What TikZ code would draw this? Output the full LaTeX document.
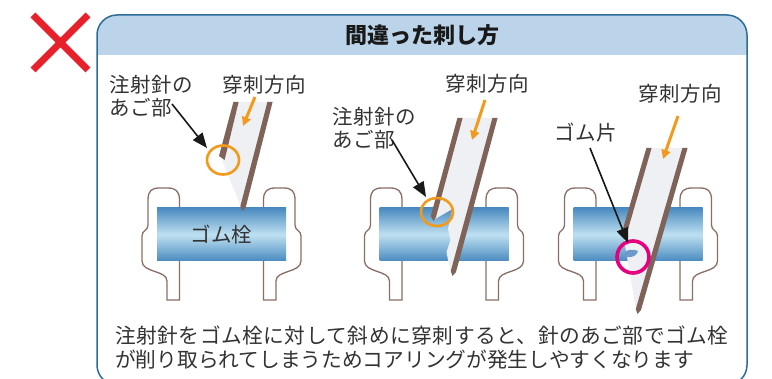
\documentclass[tikz,border=0pt]{standalone}
\usepackage{fontspec}
\setmainfont{Noto Sans CJK JP}
\usetikzlibrary{arrows.meta}

\definecolor{frameblue}{HTML}{2B6C98}
\definecolor{headblue}{HTML}{BCD4E9}
\definecolor{crossred}{HTML}{E6212B}
\definecolor{needlebrown}{HTML}{7F6359}
\definecolor{needlegray}{HTML}{EEF0F3}
\definecolor{plugdark}{HTML}{4A8BC0}
\definecolor{pluglight}{HTML}{BFE0F1}
\definecolor{arroworange}{HTML}{F39A1C}
\definecolor{ringpink}{HTML}{E5007F}
\definecolor{chipblue}{HTML}{6E9ACB}
\definecolor{inkgray}{HTML}{333333}
\definecolor{holderbrown}{HTML}{8A6E66}

\tikzset{
  txt/.style={inner sep=0pt, text=inkgray, font=\fontsize{20.5}{23}\selectfont\addfontfeature{LetterSpace=3}},
  bodytxt/.style={inner sep=0pt, text=inkgray, align=left, font=\fontsize{20.7}{23.5}\selectfont},
  titletxt/.style={inner sep=0pt, text=black!90, font=\fontsize{22}{26}\selectfont\bfseries},
  plug/.style={inner sep=0pt, minimum width=129pt, minimum height=53pt,
    top color=plugdark, bottom color=plugdark, middle color=pluglight,
    text=inkgray, font=\fontsize{20.5}{23}\selectfont},
  holderline/.style={draw=holderbrown, line width=1.3pt, fill=white},
  stripe/.style={fill=needlebrown},
  barrel/.style={fill=needlegray},
  pointer/.style={draw=black!90, line width=1.6pt, -{Triangle[length=15pt,width=12pt]}},
  flow/.style={draw=arroworange, line width=3pt, -{Triangle[length=9pt,width=9pt]}},
  ring/.style={draw=arroworange, line width=2.6pt},
  pinkring/.style={draw=ringpink, line width=3.6pt},
  holders/.pic={
    \foreach \side in {1,-1}{
      \begin{scope}[xscale=\side]
        \path[holderline] (-42,261) -- (-42,300) -- (-54.5,300) -- (-54.5,281)
          .. controls (-54.5,270) and (-79.5,273) .. (-79.5,261) -- (-79.5,236)
          .. controls (-79.5,230) and (-73.5,231) .. (-73.5,225) -- (-73.5,200)
          .. controls (-73.5,191) and (-70,188) .. (-62,188) -- (-54,188)
          .. controls (-46,188) and (-42,191) .. (-42,200) -- (-42,208);
      \end{scope}
    }
  }
}

\begin{document}
\begin{tikzpicture}[x=1pt, y=-1pt]
\useasboundingbox (0,0) rectangle (772,379);
\clip (0,0) rectangle (772,379);

% red cross
\draw[crossred, line width=7pt] (33,15) -- (88,70) (88,15) -- (33,70);

% framed panel with header band
\begin{scope}
  \clip[rounded corners=20pt] (97,15) rectangle (747,385);
  \fill[headblue] (97,15) rectangle (747,55);
\end{scope}
\draw[frameblue, line width=1.5pt, rounded corners=20pt] (97,15) rectangle (747,385);
\node[titletxt] (title) at (422,35) {間違った刺し方};

% stopper holders
\pic at (221.5,0) {holders};
\pic at (444,0) {holders};
\pic at (638,0) {holders};

% rubber plugs
\node[plug] (plug1) at (221.5,234.5) {ゴム栓};
\node[plug] (plug2) at (444,234.5) {};
\node[plug] (plug3) at (638,234.5) {};

% needle 1: above the plug
\fill[barrel] (238.6,102) -- (267.4,102) -- (241,207) -- (222,160) -- cycle;
\fill[stripe] (233.4,102) -- (238.6,102) -- (224.6,160) -- (219.0,156) -- cycle;
\fill[stripe] (267.4,102) -- (272.6,102) -- (245.8,207) -- (242,211) -- (240.4,206) -- cycle;

% needle 2: tip cutting into the plug
\fill[barrel] (462.6,118) -- (492.4,118) -- (451,272) -- (449,265) -- (446.5,252)
  -- (450.5,240) -- (448,229) -- (452.5,209) -- (435,219) -- cycle;
\fill[stripe] (457.4,118) -- (462.6,118) -- (436,217) -- (433.5,221) -- (430.8,216) -- cycle;
\fill[stripe] (492.4,118) -- (497.6,118) -- (456,272) -- (452.5,276) -- (450.8,271) -- cycle;

% needle 3: through the plug, carrying a rubber chip
\fill[barrel] (651.6,148) -- (682.4,148) -- (636,310) -- (623.5,236) -- cycle;
\fill[stripe] (646.4,148) -- (651.6,148) -- (626.1,236) -- (620.9,236) -- cycle;
\fill[stripe] (682.4,148) -- (687.6,148) -- (641,310) -- (637.5,314) -- (635.8,309) -- cycle;
\fill[chipblue] (625,253) .. controls (626,249) and (634,249) .. (638,251)
  .. controls (637,255) and (633,258) .. (627,257)
  .. controls (625,256.5) and (624.5,255) .. (625,253) -- cycle;

% highlight rings
\draw[ring] (223,160) circle [x radius=16pt, y radius=14.5pt];
\draw[ring] (437,212) circle [x radius=16pt, y radius=14pt];
\draw[pinkring] (633,257) circle [radius=16pt];

% labels
\node[txt, anchor=west, align=left] (bevel1) at (109,96) {注射針の\\あご部};
\node[txt] (dir1) at (264,84.5) {穿刺方向};
\node[txt, anchor=west, align=left] (bevel2) at (332,128.3) {注射針の\\あご部};
\node[txt] (dir2) at (487,83.5) {穿刺方向};
\node[txt] (chip) at (586,132.5) {ゴム片};
\node[txt] (dir3) at (680,93.5) {穿刺方向};

% arrow end points
\coordinate (b1s) at (172,104);
\coordinate (b1e) at (207,148);
\coordinate (b2s) at (392,140);
\coordinate (b2e) at (426,197);
\coordinate (c3s) at (590,148);
\coordinate (c3e) at (628,243);
\coordinate (f1s) at (255,97);
\coordinate (f1e) at (243,126);
\coordinate (f2s) at (485,100);
\coordinate (f2e) at (472,140);
\coordinate (f3s) at (678,116);
\coordinate (f3e) at (663,159);

\draw[pointer] (b1s) -- (b1e);
\draw[pointer] (b2s) -- (b2e);
\draw[pointer] (c3s) -- (c3e);
\draw[flow] (f1s) -- (f1e);
\draw[flow] (f2s) -- (f2e);
\draw[flow] (f3s) -- (f3e);

% explanation
\node[bodytxt, anchor=west] (note) at (115,347.3)
  {{\addfontfeature{LetterSpace=2.5}注射針をゴム栓に対して斜めに穿刺すると、針のあご部でゴム栓}\\
   が削り取られてしまうためコアリングが発生しやすくなります};
\end{tikzpicture}
\end{document}
